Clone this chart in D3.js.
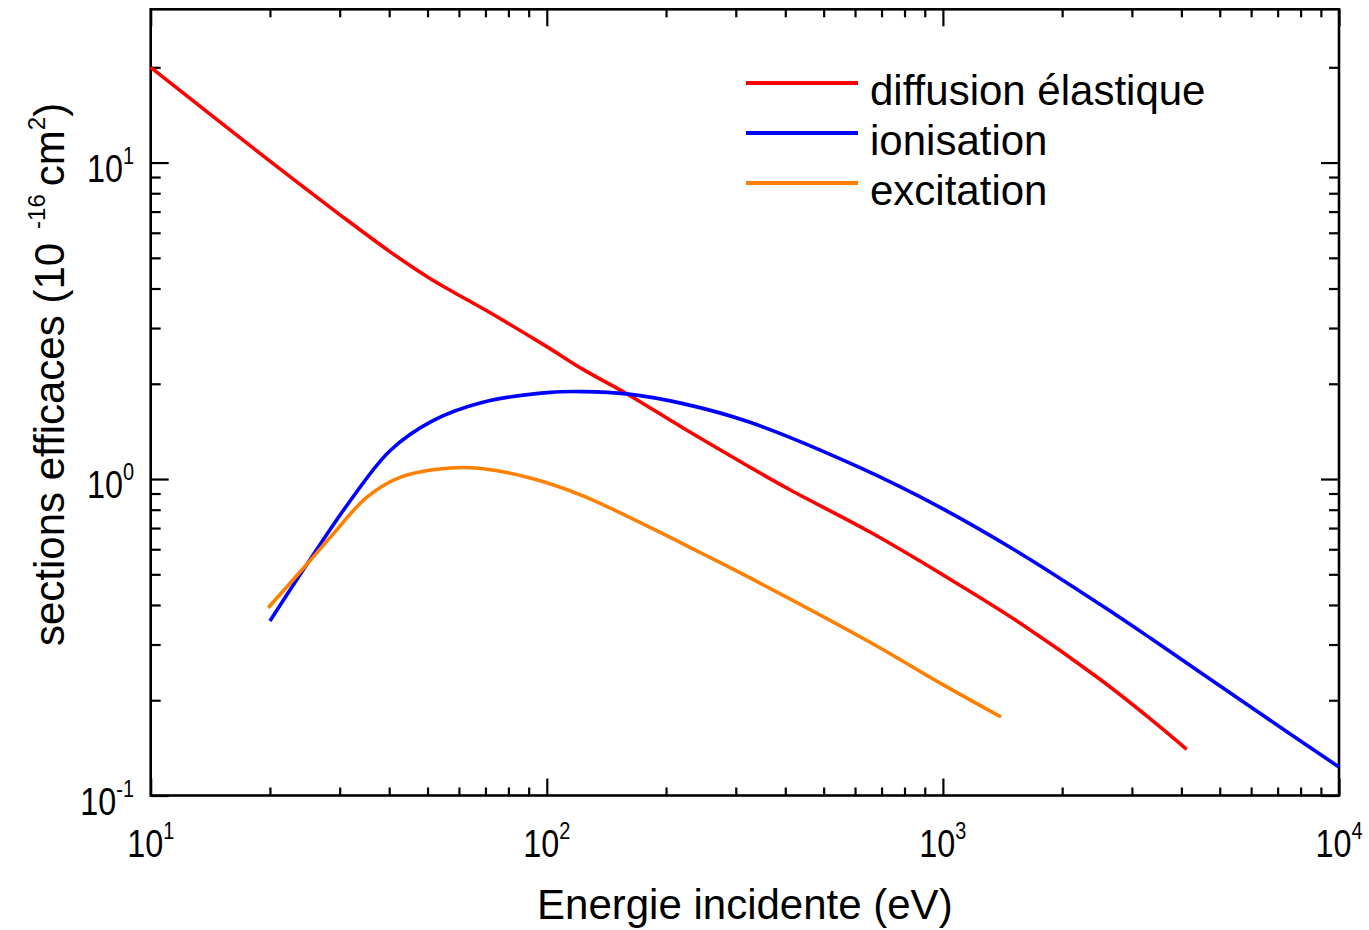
<!DOCTYPE html>
<html>
<head>
<meta charset="utf-8">
<script src="https://cdn.jsdelivr.net/npm/d3@7"></script>
<style>
  body { margin: 0; background: #fff; }
  svg { display: block; font-family: "Liberation Sans", Arial, sans-serif; }
</style>
</head>
<body>
<div id="chart"></div>
<script>
// energies (eV) and cross sections (1e-16 cm^2)
const elasticE = [10, 20, 30, 40, 50, 57, 70, 100, 123.4, 159.1, 220.8, 325.8, 411, 654.6, 1000, 1565, 2492, 3333, 4126];
const elasticS = [20.0, 10.1, 6.85, 5.25, 4.35, 3.95, 3.42, 2.62, 2.22, 1.86, 1.45, 1.09, 0.925, 0.68, 0.498, 0.351, 0.233, 0.175, 0.140];

const ionE = [20, 24.8, 31.9, 40.2, 51.6, 69, 101.9, 123.4, 159.1, 220.8, 325.8, 617.6, 1000, 1565, 2492, 3333, 5962, 10000];
const ionS = [0.356, 0.538, 0.854, 1.229, 1.529, 1.748, 1.879, 1.889, 1.858, 1.731, 1.511, 1.086, 0.805, 0.583, 0.402, 0.315, 0.191, 0.123];

const excE = [19.8, 24.8, 28.9, 35.1, 42.6, 57, 69, 92.3, 123.4, 182.2, 243.7, 325.8, 654.6, 1000, 1402];
const excS = [0.392, 0.538, 0.671, 0.875, 1.012, 1.083, 1.078, 1.002, 0.885, 0.703, 0.586, 0.487, 0.305, 0.224, 0.177];

const seriesNames = ["diffusion élastique", "ionisation", "excitation"];
const seriesColors = ["#ff0000", "#0000ff", "#ff8000"];

const xMajor = [10, 100, 1000, 10000];
const xMinor = [20, 30, 40, 50, 60, 70, 80, 90, 200, 300, 400, 500, 600, 700, 800, 900,
                2000, 3000, 4000, 5000, 6000, 7000, 8000, 9000];
const yMajor = [0.1, 1, 10];
const yMinor = [0.2, 0.3, 0.4, 0.5, 0.6, 0.7, 0.8, 0.9, 2, 3, 4, 5, 6, 7, 8, 9, 20];

const width = 1369, height = 930;
const plotLeft = 150.7, plotRight = 1339, plotTop = 9.3, plotBottom = 795.5;

const svg = d3.select("#chart").append("svg")
    .attr("width", width)
    .attr("height", height);

const x = d3.scaleLog().domain([10, 10000]).range([plotLeft, plotRight]);
const y = d3.scaleLog().domain([0.1, 30.5]).range([plotBottom, plotTop]);

// ticks, all pointing inward, mirrored on top and right
function ticks(axis, values, len, transform) {
    const g = svg.append("g")
        .attr("transform", transform)
        .call(axis.tickValues(values).tickSize(-len).tickSizeOuter(0).tickFormat(""));
    g.select(".domain").remove();
    g.selectAll(".tick line").attr("stroke", "#000").attr("stroke-width", 2.2);
}
ticks(d3.axisBottom(x), xMinor, 8, `translate(0,${plotBottom})`);
ticks(d3.axisBottom(x), xMajor, 17, `translate(0,${plotBottom})`);
ticks(d3.axisTop(x), xMinor, 8, `translate(0,${plotTop})`);
ticks(d3.axisTop(x), xMajor, 17, `translate(0,${plotTop})`);
ticks(d3.axisLeft(y), yMinor, 10, `translate(${plotLeft},0)`);
ticks(d3.axisLeft(y), yMajor, 18, `translate(${plotLeft},0)`);
ticks(d3.axisRight(y), yMinor, 10, `translate(${plotRight},0)`);
ticks(d3.axisRight(y), yMajor, 18, `translate(${plotRight},0)`);

// frame
svg.append("rect")
    .attr("x", plotLeft).attr("y", plotTop)
    .attr("width", plotRight - plotLeft).attr("height", plotBottom - plotTop)
    .attr("fill", "none")
    .attr("stroke", "#000")
    .attr("stroke-width", 2.6);

// tick labels as 10 with an exponent
function powerLabel(g, v) {
    const t = g.append("text")
        .attr("font-size", 39)
        .attr("fill", "#000");
    t.append("tspan").text("10");
    t.append("tspan")
        .attr("font-size", 24)
        .attr("dy", -18)
        .text(Math.round(Math.log10(v)));
    return t;
}

xMajor.forEach(function (v) {
    const g = svg.append("g")
        .attr("transform", `translate(${x(v)},857) scale(0.83,1)`);
    powerLabel(g, v).attr("text-anchor", "middle");
});

yMajor.forEach(function (v) {
    const g = svg.append("g")
        .attr("transform", `translate(134,${y(v) + 19}) scale(0.83,1)`);
    powerLabel(g, v).attr("text-anchor", "end");
});

// axis titles
svg.append("text")
    .attr("x", (plotLeft + plotRight) / 2)
    .attr("y", 919)
    .attr("text-anchor", "middle")
    .attr("font-size", 42)
    .text("Energie incidente (eV)");

const yTitle = svg.append("text")
    .attr("transform", "translate(64,646) rotate(-90)")
    .attr("font-size", 42);
yTitle.append("tspan").text("sections efficaces (10");
yTitle.append("tspan").attr("font-size", 24).attr("dx", 14).attr("dy", -19).text("-16");
yTitle.append("tspan").attr("dx", 8).attr("dy", 19).text("cm");
yTitle.append("tspan").attr("font-size", 24).attr("dy", -19).text("2");
yTitle.append("tspan").attr("dy", 19).text(")");

// curves
const line = d3.line()
    .x(function (d) { return x(d[0]); })
    .y(function (d) { return y(d[1]); })
    .curve(d3.curveCatmullRom.alpha(0.5));

const series = [
    d3.zip(elasticE, elasticS),
    d3.zip(ionE, ionS),
    d3.zip(excE, excS)
];

series.forEach(function (s, i) {
    svg.append("path")
        .datum(s)
        .attr("fill", "none")
        .attr("stroke", seriesColors[i])
        .attr("stroke-width", 3.6)
        .attr("stroke-linejoin", "round")
        .attr("d", line);
});

// legend
const legend = svg.append("g").attr("transform", "translate(746,83)");
seriesNames.forEach(function (name, i) {
    legend.append("line")
        .attr("x1", 0).attr("x2", 112)
        .attr("y1", i * 50).attr("y2", i * 50)
        .attr("stroke", seriesColors[i])
        .attr("stroke-width", 4);
    legend.append("text")
        .attr("x", 124)
        .attr("y", i * 50 + 22)
        .attr("font-size", 42)
        .text(name);
});
</script>
</body>
</html>
